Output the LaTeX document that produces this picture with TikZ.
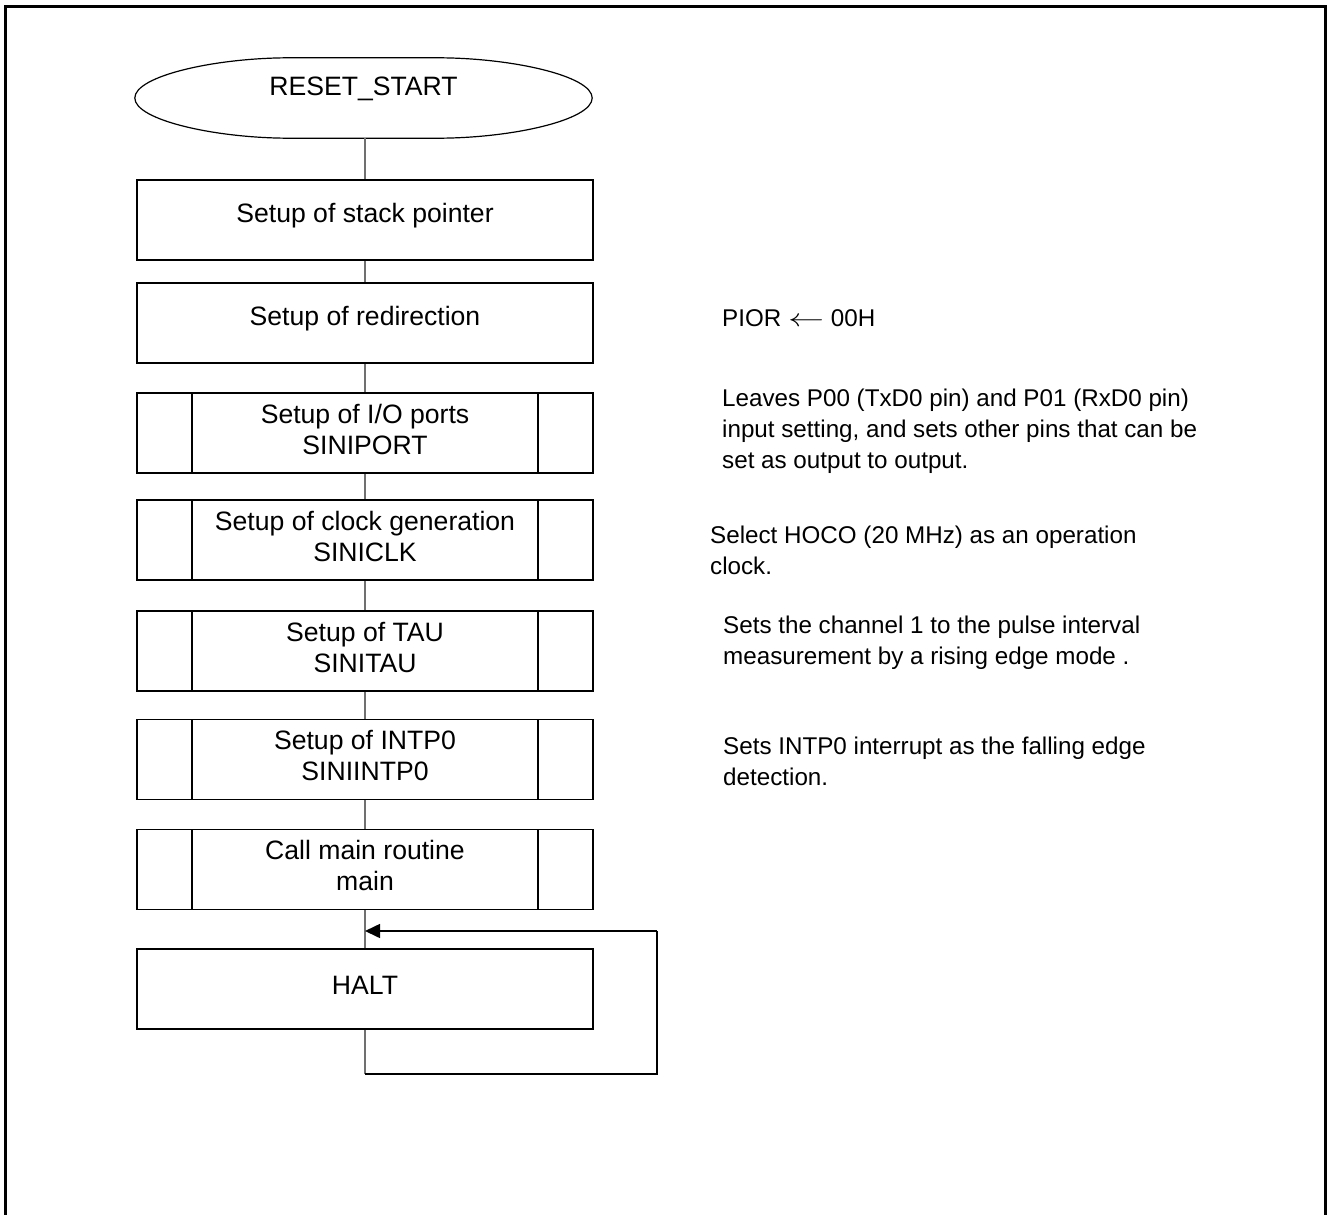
\documentclass[tikz,border=0pt]{standalone}
\usepackage{fontspec}
\usepackage{graphicx}
\setmainfont{Liberation Sans}
\usetikzlibrary{arrows.meta, positioning, calc}
\definecolor{linkgray}{HTML}{707070}

\begin{document}
\begin{tikzpicture}[x=1pt, y=1pt,
  procbox/.style={draw, line width=1.6pt, minimum width=456pt, minimum height=80pt,
                  inner sep=0pt},
  boxtext/.style={font=\fontsize{26.6}{31}\selectfont, align=center, yshift=4pt},
  subrbox/.style={procbox, path picture={
      \draw[line width=1.6pt] ([xshift=55pt]path picture bounding box.north west)
                           -- ([xshift=55pt]path picture bounding box.south west);
      \draw[line width=1.6pt] ([xshift=-55pt]path picture bounding box.north east)
                           -- ([xshift=-55pt]path picture bounding box.south east);}},
  termbox/.style={minimum width=457pt, minimum height=80pt, inner sep=0pt},
  link/.style={linkgray, line width=1.4pt},
  backlink/.style={black, line width=1.6pt},
  note/.style={anchor=west, align=left, inner sep=0pt, font=\fontsize{24.2}{31}\selectfont}]

\useasboundingbox (0,0) rectangle (1328,-1215);

% Frame (open at the bottom)
\draw[line width=2.6pt] (5.5,-1230) -- (5.5,-6.5) -- (1325.5,-6.5) -- (1325.5,-1230);

% Terminal
\node[termbox, label={[boxtext, yshift=5pt]center:RESET\_START}] (start) at (363.5,-98) {};
\draw[line width=1.2pt] (start.west) .. controls +(0,22) and +(-75,0) .. ([xshift=155pt]start.north west)
  -- ([xshift=-155pt]start.north east) .. controls +(75,0) and +(0,22) .. (start.east)
  .. controls +(0,-22) and +(75,0) .. ([xshift=-155pt]start.south east)
  -- ([xshift=155pt]start.south west) .. controls +(-75,0) and +(0,-22) .. (start.west);

% Process steps
\node[procbox, label={[boxtext]center:Setup of stack pointer}] (stack) at (365,-220) {};
\node[procbox, label={[boxtext]center:Setup of redirection}] (redir) at (365,-323) {};
\node[subrbox, label={[boxtext]center:Setup of I/O ports\\SINIPORT}] (ports) at (365,-433) {};
\node[subrbox, label={[boxtext]center:Setup of clock generation\\SINICLK}] (clock) at (365,-540) {};
\node[subrbox, label={[boxtext]center:Setup of TAU\\SINITAU}] (tau) at (365,-651) {};
\node[subrbox, label={[boxtext]center:Setup of INTP0\\SINIINTP0}] (intp) at (365,-759.5) {};
\node[subrbox, label={[boxtext]center:Call main routine\\main}] (callmain) at (365,-869.5) {};
\node[procbox, label={[boxtext]center:HALT}] (halt) at (365,-989) {};

% Links
\draw[link] (start.south -| stack.north) -- (stack.north);
\draw[link] (stack) -- (redir);
\draw[link] (redir) -- (ports);
\draw[link] (ports) -- (clock);
\draw[link] (clock) -- (tau);
\draw[link] (tau) -- (intp);
\draw[link] (intp) -- (callmain);
\draw[link] (callmain) -- (halt);

% Loop back to HALT
\coordinate (loopend) at (657,-931);
\coordinate (join) at (halt.north |- loopend);
\draw[link] (halt.south) -- ++(0,-44) coordinate (loopbot);
\draw[backlink] (loopbot) -| (loopend);
\draw[backlink, -{Triangle[length=15pt, width=14pt]}] (loopend) -- (join);

% Notes
\node[note] (nredir) at (722,-318) {PIOR \scalebox{1.45}[1]{$\leftarrow$} 00H};
\node[note] (nports) at (722,-431) {Leaves P00 (TxD0 pin) and P01 (RxD0 pin)\\input setting, and sets other pins that can be\\set as output to output.};
\node[note] (nclock) at (710,-550.5) {Select HOCO (20 MHz) as an operation\\clock.};
\node[note] (ntau) at (723,-642.5) {Sets the channel 1 to the pulse interval\\measurement by a rising edge mode .};
\node[note] (nintp) at (723,-761.5) {Sets INTP0 interrupt as the falling edge\\detection.};

\end{tikzpicture}
\end{document}
